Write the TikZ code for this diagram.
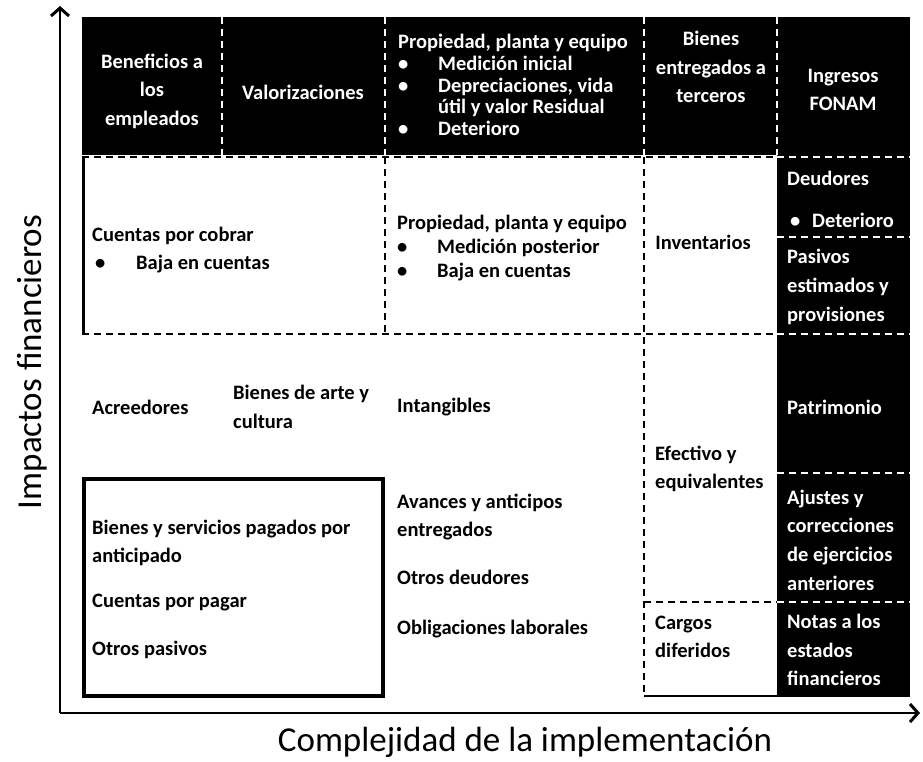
\documentclass[tikz,border=0pt]{standalone}
\usepackage{fontspec}
\setmainfont{Carlito}
\usetikzlibrary{arrows.meta}

% viñeta con sangría fija
\newcommand{\bul}[1][40pt]{\makebox[#1][l]{•}}

\begin{document}
\begin{tikzpicture}[
    x=1pt, y=-1pt,
    % estilos de texto
    txt/.style={inner sep=0, font=\bfseries\fontsize{20.5}{28.6}\selectfont, align=left, anchor=west},
    txt_c/.style={txt, align=center, anchor=center},
    lista/.style={txt, font=\bfseries\fontsize{20.5}{21.7}\selectfont},
    axis_label/.style={inner sep=0, font=\fontsize{35}{40}\selectfont},
    % estilos de linea
    cut_line/.style={dash pattern=on 7pt off 5pt, line width=1.4pt},
    white_cut/.style={cut_line, white, line width=2pt},
    axis_line/.style={line width=2.5pt, -{Straight Barb[length=8pt,width=18pt,line width=3pt]}}
]
    \useasboundingbox (0,0) rectangle (923,761);

    % --- zonas negras ---
    \fill[black] (82,17) rectangle (777,155);
    \fill[black] (777,17) rectangle (910,697);

    % --- divisiones ---
    \foreach \xc in {222,385,644,777}
        \draw[white_cut] (\xc,17) -- (\xc,155);
    \foreach \yc in {157,237,334,473,602}
        \draw[white_cut] (777,\yc) -- (910,\yc);

    \draw[cut_line] (82,157) -- (777,157);
    \draw[cut_line] (82,334) -- (777,334);
    \draw[cut_line] (385,157) -- (385,334);
    \draw[cut_line] (644,157) -- (644,697);
    \draw[cut_line] (644,602) -- (777,602);
    \draw[line width=3pt] (83.5,157) -- (83.5,334);
    \draw[line width=2pt] (644,696) -- (777,696);
    \draw[line width=3.5pt] (84,479) rectangle (383,696);

    % --- ejes ---
    \coordinate (origin) at (60,713);
    \coordinate (ytip) at (60,6);
    \coordinate (xtip) at (920,713);
    \draw[axis_line] (origin) -- (ytip);
    \draw[axis_line] (origin) -- (xtip);

    \node[axis_label, rotate=90] (ylab) at (32,362) {Impactos financieros};
    \node[axis_label] (xlab) at (525,742) {Complejidad de la implementación};

    % --- fila superior (negra) ---
    \node[txt_c, white] (beneficios) at (152,91) {Beneficios a\\los\\empleados};
    \node[txt_c, white] (valorizaciones) at (303,92) {Valorizaciones};
    \node[lista, white] (ppeInicial) at (398,85) {Propiedad, planta y equipo\\
        \bul Medición inicial\\
        \bul Depreciaciones, vida\\
        \hspace*{40pt}útil y valor Residual\\
        \bul Deterioro};
    \node[txt_c, white] (entregados) at (711,67) {Bienes\\entregados a\\terceros};
    \node[txt_c, white] (fonam) at (843,90) {Ingresos\\FONAM};

    % --- columna derecha (negra) ---
    \node[txt, white] (deudores) at (787,178) {Deudores};
    \node[txt, white] (deterioro) at (790,220) {\bul[22pt]Deterioro};
    \node[txt, white] (pasivos) at (787,287) {Pasivos\\estimados y\\provisiones};
    \node[txt, white] (patrimonio) at (787,407) {Patrimonio};
    \node[txt, white] (ajustes) at (787,540) {Ajustes y\\correcciones\\de ejercicios\\anteriores};
    \node[txt, white] (notas) at (787,650) {Notas a los\\estados\\financieros};

    % --- zona blanca ---
    \node[txt] (cxc) at (92,250) {Cuentas por cobrar\\\hspace*{3pt}\bul[41pt]Baja en cuentas};
    \node[lista, font=\bfseries\fontsize{20.5}{24}\selectfont] (ppePosterior) at (397,248)
        {Propiedad, planta y equipo\\\bul Medición posterior\\\bul Baja en cuentas};
    \node[txt_c] (inventarios) at (703,242) {Inventarios};

    \node[txt] (acreedores) at (92,407) {Acreedores};
    \node[txt] (arte) at (233,407) {Bienes de arte y\\cultura};
    \node[txt] (intangibles) at (397,407) {Intangibles};
    \node[txt] (efectivo) at (655,469) {Efectivo y\\equivalentes};

    \node[txt] (anticipado) at (92,543) {Bienes y servicios pagados por\\anticipado};
    \node[txt] (cxp) at (92,603) {Cuentas por pagar};
    \node[txt] (otrosPasivos) at (92,650) {Otros pasivos};

    \node[txt] (avances) at (397,517) {Avances y anticipos\\entregados};
    \node[txt] (otrosDeudores) at (397,577) {Otros deudores};
    \node[txt] (laborales) at (397,629) {Obligaciones laborales};
    \node[txt] (cargos) at (655,637) {Cargos\\diferidos};

\end{tikzpicture}
\end{document}
